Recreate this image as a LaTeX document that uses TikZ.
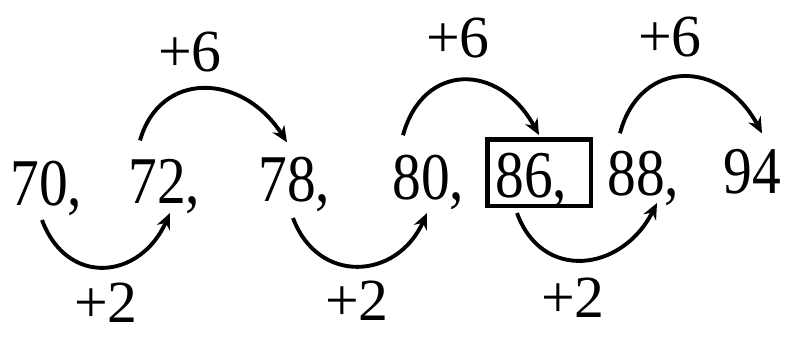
\documentclass[tikz,border=0pt]{standalone}
\usepackage{fontspec}
\setmainfont{Liberation Serif}
\usetikzlibrary{arrows.meta}

\begin{document}
\begin{tikzpicture}[
      num/.style={anchor=base west, inner sep=0pt, xscale=0.86,
                  font=\fontsize{38}{40}\selectfont},
      lbl/.style={inner sep=0pt, font=\fontsize{34}{36}\selectfont},
      ar/.style={-{Stealth[length=3.2mm, width=2.8mm]}, line width=2.2pt}
    ]
    \useasboundingbox (0,0) rectangle (15.72,6.74);

    % the series
    \node[num] (n70) at (0.20,2.64)  {70,};
    \node[num] (n72) at (2.56,2.68)  {72,};
    \node[num] (n78) at (5.16,2.72)  {78,};
    \node[num] (n80) at (7.84,2.76)  {80,};
    \node[num] (n86) at (9.90,2.80)  {86,};
    \node[num] (n88) at (12.14,2.84) {88,};
    \node[num] (n94) at (14.46,2.88) {94};
    \node[draw, line width=0.09cm, minimum width=2.07cm, minimum height=1.33cm,
          inner sep=0pt] (box86) at (10.78,3.29) {};

    % +6 jumps
    \draw[ar] ([shift={(0.24,0.36)}]n72.north west) .. controls +(0.4,1.4) and +(-0.9,1.4) .. ([shift={(0.58,0.28)}]n78.north west);
    \draw[ar] ([shift={(0.22,0.38)}]n80.north west) .. controls +(0.4,1.46) and +(-0.8,1.46) .. ([yshift=0.04cm]box86.north);
    \draw[ar] ([shift={(0.26,0.34)}]n88.north west) .. controls +(0.4,1.5) and +(-0.8,1.5) .. ([shift={(0.78,0.30)}]n94.north west);
    \node[lbl] (p6a) at (3.80,5.70)  {+6};
    \node[lbl] (p6b) at (9.16,5.98)  {+6};
    \node[lbl] (p6c) at (13.40,6.00) {+6};

    % +2 jumps
    \draw[ar] ([shift={(0.64,-0.30)}]n70.base west) .. controls +(0.5,-1.34) and +(-0.6,-1.34) .. ([shift={(0.84,-0.20)}]n72.base west);
    \draw[ar] ([shift={(0.70,-0.34)}]n78.base west) .. controls +(0.5,-1.34) and +(-0.6,-1.34) .. ([shift={(0.70,-0.28)}]n80.base west);
    \draw[ar] ([shift={(-0.44,-0.10)}]box86.south) .. controls +(0.5,-1.38) and +(-0.7,-1.38) .. ([shift={(1.00,-0.16)}]n88.base west);
    \node[lbl] (p2a) at (2.12,0.68)  {+2};
    \node[lbl] (p2b) at (7.14,0.72)  {+2};
    \node[lbl] (p2c) at (11.46,0.78) {+2};
  \end{tikzpicture}
\end{document}
